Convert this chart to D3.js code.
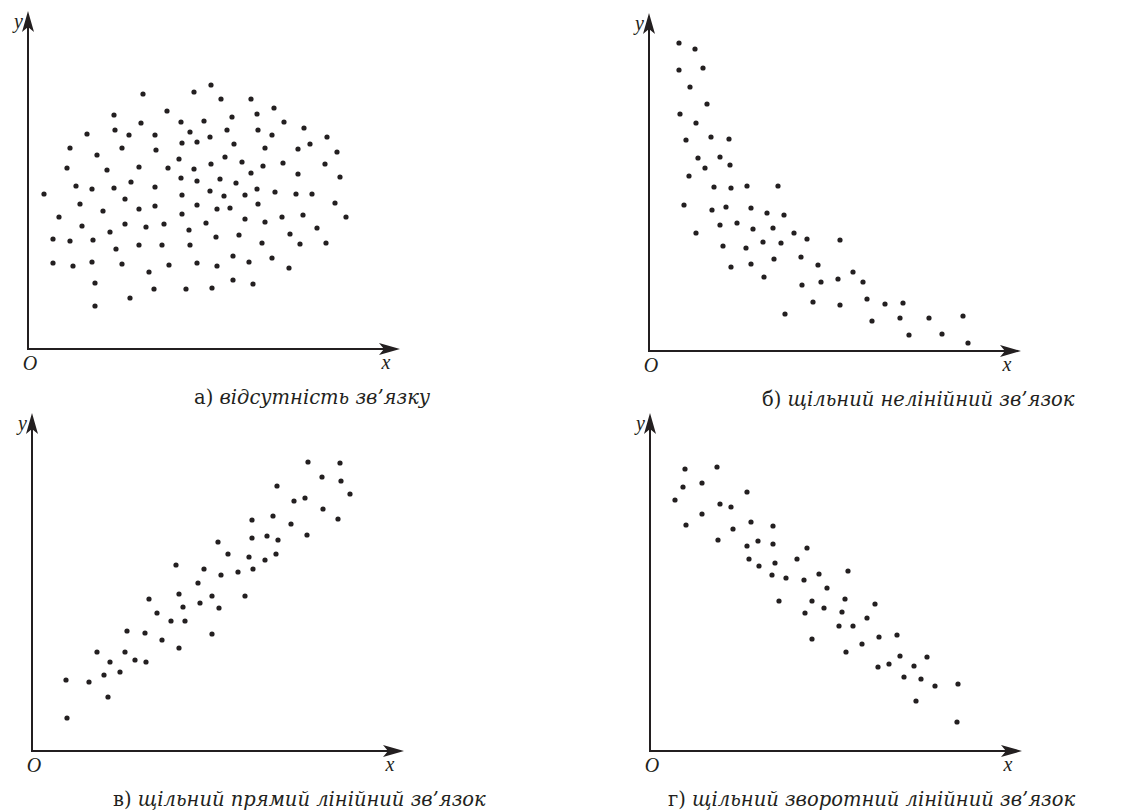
<!DOCTYPE html>
<html>
<head>
<meta charset="utf-8">
<script src="https://cdn.jsdelivr.net/npm/d3@7/dist/d3.min.js"></script>
<style>
  body { margin: 0; background: #fff; }
  svg { display: block; }
</style>
</head>
<body>
<svg id="drawing" width="1147" height="812"></svg>
<script>
// values, in axis units (origin = O, y grows upward)
const pointsA = [
  [115,255],[166,257],[86,234],[139,238],[113,226],[153,227],[59,215],[87,219],[101,214],[127,214],
  [162,217],[42,201],[69,194],[94,201],[128,199],[154,206],[169,207],[39,181],[79,179],[111,182],
  [140,181],[151,190],[166,180],[48,163],[64,160],[86,161],[103,167],[127,162],[153,171],[169,168],
  [16,155],[52,145],[97,150],[75,138],[111,140],[127,143],[154,154],[169,144],[31,132],[54,123],
  [97,125],[118,122],[136,125],[154,135],[82,117],[161,119],[25,110],[42,108],[65,109],[88,100],
  [111,104],[134,104],[162,104],[25,86],[45,83],[64,87],[94,85],[121,77],[141,84],[169,86],
  [67,66],[126,60],[102,51],[158,60],[67,43],
  [183,264],[193,250],[223,250],[246,241],[204,232],[229,235],[176,228],[256,227],[199,219],[230,219],
  [244,214],[276,221],[182,212],[299,212],[206,205],[237,201],[270,200],[282,205],[309,197],[197,192],
  [183,185],[214,187],[235,183],[255,186],[297,185],[223,176],[270,175],[312,172],[192,170],[208,166],
  [182,158],[196,153],[217,154],[229,160],[247,157],[268,155],[284,155],[307,146],[189,140],[202,141],
  [230,145],[318,132],[178,126],[217,130],[237,127],[254,132],[275,134],[289,121],[188,112],[211,114],
  [234,106],[262,115],[272,105],[298,106],[205,93],[221,87],[244,91],[189,83],[261,81],[184,61],
  [205,69],[225,65]
]

const pointsB = [
  [30,308],[46,302],[30,281],[54,283],[41,264],[58,247],[31,237],[47,228],[37,211],[62,214],
  [80,212],[49,193],[71,194],[56,183],[81,186],[40,175],[65,164],[82,163],[98,165],[129,165],
  [35,146],[63,141],[77,144],[102,143],[118,138],[135,136],[47,118],[71,126],[88,128],[104,122],
  [124,123],[145,118],[158,112],[74,105],[97,103],[114,109],[132,108],[152,94],[82,84],[102,87],
  [125,92],[169,86],[115,74],[191,111],[153,66],[172,69],[189,72],[204,79],[214,69],[164,49],
  [191,46],[218,52],[236,47],[254,48],[223,30],[251,33],[280,33],[314,35],[260,16],[293,17],
  [319,8],[136,37]
]

const pointsC = [
  [144,186],[172,182],[166,168],[117,152],[147,157],[151,144],[168,148],[125,138],[139,130],[153,130],
  [95,120],[113,118],[130,111],[147,103],[65,99],[93,99],[78,89],[103,91],[114,89],[72,76],
  [88,79],[34,71],[57,69],[76,54],[35,33],
  [276,289],[308,288],[290,274],[309,270],[318,257],[245,265],[262,250],[273,253],[291,242],[306,232],
  [220,231],[241,235],[259,227],[220,213],[235,215],[246,211],[275,216],[186,209],[196,197],[217,194],
  [233,191],[244,197],[189,176],[206,179],[221,182],[180,155],[187,143],[213,155],[180,117]
]

const pointsD = [
  [35,282],[67,284],[33,264],[52,268],[25,251],[70,247],[81,244],[97,259],[52,237],[36,226],
  [83,222],[101,229],[123,225],[68,211],[97,205],[108,210],[123,207],[157,203],[99,192],[109,185],
  [125,188],[147,192],[122,176],[136,173],[154,171],[169,177],[129,150],[162,150],[155,138],[162,112],
  [198,180],[177,163],[195,152],[174,143],[192,139],[225,147],[189,125],[203,125],[217,133],[196,99],
  [212,107],[229,114],[247,116],[228,84],[239,87],[250,95],[264,85],[277,94],[254,74],[271,72],
  [285,65],[308,67],[266,50],[307,29]
]

const captionLetters = ["а)", "б)", "в)", "г)"]
const captionTexts = [
  " відсутність зв’язку",
  " щільний нелінійний зв’язок",
  " щільний прямий лінійний зв’язок",
  " щільний зворотний лінійний зв’язок"
]
const axisNames = { x: "x", y: "y", origin: "O" }

;(function () {
    const ink = "#231f20"
    const xLen = 372
    const yLen = 338

    // where each little plot sits on the page
    const panels = [
        { ox: 28, oy: 349, data: pointsA, capX: 194 },
        { ox: 649, oy: 351, data: pointsB, capX: 762 },
        { ox: 32, oy: 751, data: pointsC, capX: 113 },
        { ox: 650, oy: 751, data: pointsD, capX: 668 }
    ]

    const svg = d3.select('#drawing')

    function arrowHead(g, tx, ty, angle) {
        g.append("path")
            .attr("d", "M0,0L-21,-6L-16,0L-21,6Z")
            .attr("fill", ink)
            .attr("transform", `translate(${tx},${ty}) rotate(${angle})`)
    }

    panels.forEach(function (p, i) {
        const x = d3.scaleLinear()
            .domain([0, xLen])
            .range([p.ox, p.ox + xLen])
        const y = d3.scaleLinear()
            .domain([0, yLen])
            .range([p.oy, p.oy - yLen])

        const g = svg.append("g")

        // axes with arrows
        g.append("path")
            .attr("d", d3.line()([[x(0), y(yLen) + 12], [x(0), y(0)], [x(xLen) - 12, y(0)]]))
            .attr("fill", "none")
            .attr("stroke", ink)
            .attr("stroke-width", 2)
        arrowHead(g, x(0), y(yLen), -90)
        arrowHead(g, x(xLen), y(0), 0)

        g.append("text")
            .attr("x", x(0) - 5)
            .attr("y", y(yLen) + 17)
            .attr("text-anchor", "end")
            .attr("class", "axlab")
            .text(axisNames.y)
        g.append("text")
            .attr("x", x(0) + 2)
            .attr("y", y(0) + 21)
            .attr("text-anchor", "middle")
            .attr("class", "axlab")
            .text(axisNames.origin)
        g.append("text")
            .attr("x", x(xLen) - 14)
            .attr("y", y(0) + 20)
            .attr("text-anchor", "middle")
            .attr("class", "axlab")
            .text(axisNames.x)

        g.selectAll(".axlab")
            .attr("font-family", "'Liberation Serif', serif")
            .attr("font-style", "italic")
            .attr("font-size", 20)
            .attr("fill", ink)

        g.selectAll("circle")
            .data(p.data)
            .enter().append("circle")
            .attr("cx", d => x(d[0]))
            .attr("cy", d => y(d[1]))
            .attr("r", 2.6)
            .attr("fill", ink)

        const cap = g.append("text")
            .attr("x", p.capX)
            .attr("y", p.oy + 55)
            .attr("font-family", "'DejaVu Serif', serif")
            .attr("font-size", 19.5)
            .attr("fill", ink)
        cap.append("tspan").text(captionLetters[i])
        cap.append("tspan").attr("font-style", "italic").text(captionTexts[i])
    })

}).call(this);
</script>
</body>
</html>
